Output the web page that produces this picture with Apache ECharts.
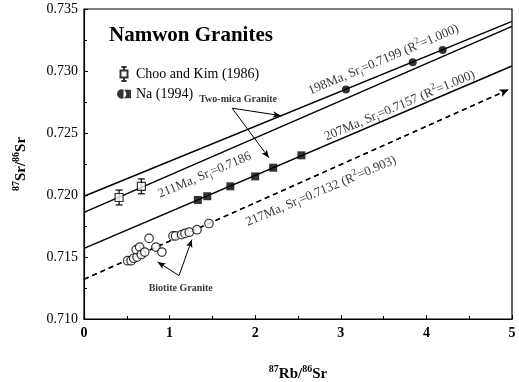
<!DOCTYPE html>
<html><head><meta charset="utf-8">
<script src="https://cdn.jsdelivr.net/npm/echarts@6/dist/echarts.min.js"></script>
<style>html,body{margin:0;padding:0;background:#fff}#c{width:519px;height:382px}</style>
</head><body><div id="c"></div>
<script>
// ---- data ----
const chooX = [0.41, 0.67];
const chooY = [0.7198, 0.7207];
const chooErr = [0.0006, 0.0006];
const naSqX = [1.33, 1.44, 1.71, 2.00, 2.21, 2.54];
const naSqY = [0.7196, 0.7199, 0.7207, 0.7215, 0.7222, 0.7232];
const naCircX = [3.06, 3.84, 4.19];
const naCircY = [0.7285, 0.7307, 0.7317];
const bioX = [0.51, 0.55, 0.58, 0.62, 0.61, 0.65, 0.67, 0.71, 0.76, 0.84, 0.91, 1.04, 1.07, 1.14, 1.18, 1.23, 1.32, 1.46];
const bioY = [0.7147, 0.7147, 0.7149, 0.7150, 0.7156, 0.7158, 0.7152, 0.7154, 0.7165, 0.7158, 0.7154, 0.7167, 0.7167, 0.7168, 0.7169, 0.7170, 0.7172, 0.7177];
// isochron end points [x0, y0, x1, y1]
const line198 = [0, 0.7199, 5, 0.7340];
const line211 = [0, 0.7186, 5, 0.7336];
const line207 = [0, 0.7157, 5, 0.7304];
const line217 = [0, 0.7132, 4.96, 0.7285];
const xTicks = [0, 1, 2, 3, 4, 5];
const yTicks = ['0.710', '0.715', '0.720', '0.725', '0.730', '0.735'];
// annotation texts: [x, y, text]
const lineLabels = [
  [3.50, 0.7309, '{t|198Ma, Sr}{s|i}{t|=0.7199 (R}{p|2}{t|=1.000)}'],
  [3.69, 0.7272, '{t|207Ma, Sr}{s|i}{t|=0.7157 (R}{p|2}{t|=1.000)}'],
  [1.41, 0.7216, '{t|211Ma, Sr}{s|i}{t|=0.7186}'],
  [2.77, 0.7203, '{t|217Ma, Sr}{s|i}{t|=0.7132 (R}{p|2}{t|=0.903)}']
];
const noteTexts = [[1.80, 0.7277, 'Two-mica Granite'], [1.13, 0.7125, 'Biotite Granite']];
const noteArrows = [
  [1.73, 0.7270, 2.30, 0.7264],
  [1.73, 0.7270, 2.16, 0.7230],
  [1.11, 0.7135, 0.86, 0.7146],
  [1.11, 0.7135, 1.26, 0.7164]
];

const SERIF = "'Liberation Serif','DejaVu Serif',serif";
const zip = (a, b) => a.map((v, i) => [v, b[i]]);
const seg = l => [[l[0], l[1]], [l[2], l[3]]];
const lineSeries = (name, l, dashed) => ({
  type: 'line', name, data: seg(l), symbol: 'none', silent: true,
  lineStyle: { color: '#000', width: 1.5, type: dashed ? [5, 4] : 'solid' }
});
const richTxt = {
  t: { fontFamily: SERIF, fontSize: 13, color: '#000', lineHeight: 18 },
  s: { fontFamily: SERIF, fontSize: 9, color: '#000', lineHeight: 9, verticalAlign: 'bottom' },
  p: { fontFamily: SERIF, fontSize: 9, color: '#000', lineHeight: 9, verticalAlign: 'top' }
};

const chart = echarts.init(document.getElementById('c'), null, { renderer: 'canvas' });
chart.setOption({
  backgroundColor: '#fff',
  animation: false,
  title: { text: 'Namwon Granites', left: 104, top: 20,
    textStyle: { fontFamily: SERIF, fontSize: 21, fontWeight: 'bold', color: '#000' } },
  legend: {
    orient: 'vertical', left: 112, top: 61, itemWidth: 14, itemHeight: 14, itemGap: 5,
    textStyle: { fontFamily: SERIF, fontSize: 14, color: '#000' },
    data: [
      { name: 'Choo and Kim (1986)', icon: 'path://M2,0 L8,0 M5,0 L5,4 M1,4 L9,4 L9,12 L1,12 Z M5,12 L5,16 M2,16 L8,16' },
      { name: 'Na (1994)', icon: 'path://M0,5 A5,5 0 1,0 10,5 A5,5 0 1,0 0,5 Z M7,0.5 L15,0.5 L15,9.5 L7,9.5 Z' }
    ]
  },
  grid: { left: 84, right: 7, top: 9, bottom: 63, containLabel: false, outerBoundsMode: 'none',
    show: true, borderColor: '#000', borderWidth: 1.2, backgroundColor: 'transparent' },
  xAxis: {
    type: 'value', min: 0, max: 5, interval: 1,
    name: '{s|87}{b|Rb/}{s|86}{b|Sr}', nameLocation: 'middle', nameGap: 45,
    nameTextStyle: { rich: {
      b: { fontFamily: SERIF, fontSize: 15, fontWeight: 'bold', color: '#000', lineHeight: 20 },
      s: { fontFamily: SERIF, fontSize: 10, fontWeight: 'bold', color: '#000', lineHeight: 10, verticalAlign: 'top' } } },
    axisLine: { lineStyle: { color: '#000', width: 1.2 } },
    axisTick: { inside: true, length: 4, lineStyle: { color: '#000' } },
    minorTick: { show: true, splitNumber: 2, length: 3, lineStyle: { color: '#000' } },
    splitLine: { show: false },
    axisLabel: { margin: 7, fontFamily: SERIF, fontSize: 14, fontWeight: 'bold', color: '#000',
      formatter: v => String(xTicks[Math.round(v)]) }
  },
  yAxis: {
    type: 'value', min: 0.710, max: 0.735, interval: 0.005,
    name: '{s|87}{b|Sr/}{s|86}{b|Sr}', nameLocation: 'middle', nameGap: 53, nameRotate: 90,
    nameTextStyle: { rich: {
      b: { fontFamily: SERIF, fontSize: 15, fontWeight: 'bold', color: '#000', lineHeight: 20 },
      s: { fontFamily: SERIF, fontSize: 10, fontWeight: 'bold', color: '#000', lineHeight: 10, verticalAlign: 'top' } } },
    axisLine: { lineStyle: { color: '#000', width: 1.2 } },
    axisTick: { inside: true, length: 4, lineStyle: { color: '#000' } },
    minorTick: { show: true, splitNumber: 2, length: 3, lineStyle: { color: '#000' } },
    splitLine: { show: false },
    axisLabel: { margin: 6, fontFamily: SERIF, fontSize: 14, color: '#000',
      formatter: v => yTicks[Math.round((v - 0.710) / 0.005)] }
  },
  series: [
    lineSeries('198Ma', line198),
    lineSeries('211Ma', line211),
    lineSeries('207Ma', line207),
    Object.assign(lineSeries('217Ma', line217, true), {
      markLine: { silent: true, symbol: ['none', 'arrow'], symbolSize: [6, 9], label: { show: false },
        lineStyle: { color: '#000', width: 1.2, type: [5, 4] },
        data: [[{ coord: seg(line217)[0] }, { coord: seg(line217)[1] }]] }
    }),
    {
      type: 'custom', name: 'Choo error', silent: true,
      data: chooX.map((x, i) => [x, chooY[i], chooErr[i]]),
      renderItem: (params, api) => {
        const x = api.value(0), y = api.value(1), e = api.value(2);
        const top = api.coord([x, y + e]), bot = api.coord([x, y - e]);
        const st = { stroke: '#000', lineWidth: 1.2 };
        return { type: 'group', children: [
          { type: 'line', shape: { x1: top[0], y1: top[1], x2: bot[0], y2: bot[1] }, style: st },
          { type: 'line', shape: { x1: top[0] - 3.5, y1: top[1], x2: top[0] + 3.5, y2: top[1] }, style: st },
          { type: 'line', shape: { x1: bot[0] - 3.5, y1: bot[1], x2: bot[0] + 3.5, y2: bot[1] }, style: st }
        ] };
      }
    },
    { type: 'scatter', name: 'Choo and Kim (1986)', data: zip(chooX, chooY), symbol: 'rect', symbolSize: 8,
      itemStyle: { color: '#fff', borderColor: '#000', borderWidth: 1.2 }, z: 5 },
    { type: 'scatter', name: 'Na (1994)', data: zip(naSqX, naSqY), symbol: 'rect', symbolSize: 8,
      itemStyle: { color: '#000', borderColor: '#000', borderWidth: 0 }, z: 5 },
    { type: 'scatter', name: 'Na (1994)', data: zip(naCircX, naCircY), symbol: 'circle', symbolSize: 8,
      itemStyle: { color: '#000' }, z: 5 },
    { type: 'scatter', name: 'Biotite Granite', data: zip(bioX, bioY), symbol: 'circle', symbolSize: 8.5,
      itemStyle: { color: '#fff', borderColor: '#000', borderWidth: 1.2 }, z: 5 },
    { type: 'scatter', name: 'labels', silent: true, symbolSize: 0, z: 6,
      data: lineLabels.map(d => ({ value: [d[0], d[1]], label: { formatter: d[2] } })),
      label: { show: true, position: 'inside', rotate: 23, rich: richTxt } },
    { type: 'scatter', name: 'notes', silent: true, symbolSize: 0, z: 6,
      data: noteTexts.map(d => ({ value: [d[0], d[1]], label: { formatter: d[2] } })),
      label: { show: true, position: 'inside', fontFamily: SERIF, fontSize: 10, fontWeight: 'bold', color: '#000' },
      markLine: { silent: true, symbol: ['none', 'arrow'], symbolSize: [5, 8], label: { show: false },
        lineStyle: { color: '#000', width: 1, type: 'solid' },
        data: noteArrows.map(a => [{ coord: [a[0], a[1]] }, { coord: [a[2], a[3]] }]) } }
  ]
});
</script></body></html>
